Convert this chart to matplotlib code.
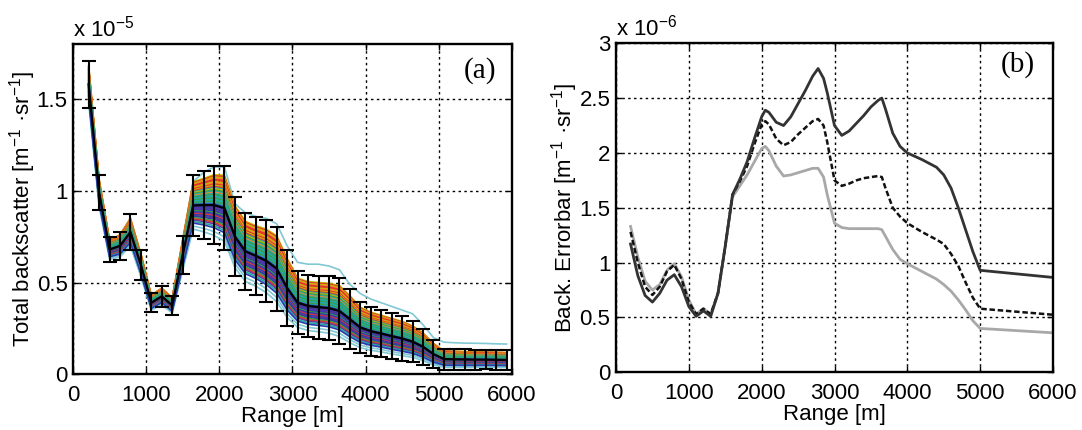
import numpy as np
import matplotlib
matplotlib.use('Agg')
import matplotlib.pyplot as plt
from matplotlib.ticker import FuncFormatter

plt.rcParams['font.family'] = ['Liberation Sans', 'DejaVu Sans']
plt.rcParams['mathtext.fontset'] = 'custom'
plt.rcParams['mathtext.rm'] = 'Liberation Sans'
plt.rcParams['mathtext.it'] = 'Liberation Sans:italic'
plt.rcParams['mathtext.default'] = 'regular'

# ---------------- panel (a) data (values in units of 1e-5) ----------------
range_a = [210, 353, 496, 639, 782, 925, 1068, 1211, 1354, 1497,
           1640, 1783, 1926, 2069, 2212, 2355, 2498, 2641, 2784, 2927,
           3070, 3213, 3356, 3499, 3642, 3785, 3928, 4071, 4214, 4357,
           4500, 4643, 4786, 4929, 5072, 5215, 5358, 5501, 5644, 5787, 5930]
mean_a = [1.58, 0.99, 0.68, 0.70, 0.775, 0.595, 0.39, 0.425, 0.375, 0.65,
          0.92, 0.922, 0.922, 0.905, 0.75, 0.67, 0.645, 0.618, 0.575, 0.47,
          0.39, 0.372, 0.366, 0.36, 0.345, 0.30, 0.255, 0.235, 0.222, 0.208,
          0.195, 0.178, 0.15, 0.11, 0.083, 0.082, 0.081, 0.080, 0.080, 0.079, 0.078]
err_a = [0.13, 0.094, 0.068, 0.077, 0.096, 0.08, 0.053, 0.058, 0.054, 0.106,
         0.165, 0.186, 0.212, 0.23, 0.216, 0.21, 0.211, 0.222, 0.23, 0.206,
         0.172, 0.171, 0.172, 0.174, 0.178, 0.164, 0.141, 0.133, 0.128, 0.124,
         0.12, 0.11, 0.097, 0.075, 0.057, 0.056, 0.055, 0.054, 0.053, 0.053, 0.052]
upper_cyan_a = [1.66, 1.02, 0.71, 0.76, 0.85, 0.64, 0.42, 0.46, 0.40, 0.72,
                1.05, 1.10, 1.13, 1.13, 0.93, 0.88, 0.86, 0.85, 0.82, 0.70,
                0.61, 0.60, 0.60, 0.59, 0.57, 0.49, 0.44, 0.41, 0.39, 0.37,
                0.35, 0.33, 0.27, 0.20, 0.175, 0.172, 0.17, 0.169, 0.168, 0.166, 0.165]
# ensemble members expressed as offsets (in error-bar units) from the mean
ens_factors = [0.78, 0.75, 0.72, 0.69, 0.66, 0.63, 0.60, 0.57, 0.54, 0.51,
               0.48, 0.45, 0.42, 0.39, 0.36, 0.33, 0.30, 0.27, 0.24, 0.21,
               0.18, 0.15, 0.12, 0.09, 0.06, 0.03, 0.00, -0.03, -0.06, -0.09,
               -0.12, -0.15, -0.18, -0.21, -0.24, -0.27, -0.30, -0.33, -0.36, -0.40,
               -0.44, -0.48, -0.53, -0.58]
ens_codes = "yryorryoryrtygtotgttgttgtbpbpbpbgbprbpbgrptbg"[:44]
lower_cyan_factors = [-0.68, -0.78]

palette = {'y': '#c8b800', 'r': '#e0342c', 'o': '#f08a24', 't': '#22a8a4',
           'g': '#3c9c3c', 'b': '#2a3cb0', 'p': '#663898', 'c': '#80c8d4'}

# ---------------- panel (b) data (values in units of 1e-6) ----------------
range_b = [200, 300, 400, 500, 600, 700, 800, 900, 1000, 1100,
           1200, 1300, 1400, 1500, 1600, 1700, 1800, 1900, 2000, 2050,
           2100, 2200, 2300, 2400, 2500, 2600, 2700, 2775, 2850, 2900,
           3000, 3100, 3200, 3300, 3400, 3500, 3600, 3650, 3700, 3800,
           3900, 4000, 4200, 4400, 4500, 4600, 4700, 4800, 4900, 5000, 6000]
err_solid = [1.17, 0.88, 0.70, 0.64, 0.72, 0.84, 0.89, 0.78, 0.60, 0.51,
             0.56, 0.51, 0.72, 1.15, 1.62, 1.76, 1.92, 2.13, 2.33, 2.39,
             2.37, 2.28, 2.25, 2.33, 2.45, 2.57, 2.70, 2.77, 2.68, 2.55,
             2.25, 2.16, 2.20, 2.27, 2.34, 2.42, 2.48, 2.50, 2.40, 2.18,
             2.06, 2.00, 1.94, 1.87, 1.80, 1.68, 1.50, 1.30, 1.10, 0.93, 0.865]
err_dashed = [1.28, 1.00, 0.78, 0.705, 0.78, 0.92, 0.98, 0.85, 0.64, 0.53,
              0.58, 0.53, 0.72, 1.15, 1.62, 1.74, 1.88, 2.08, 2.26, 2.29,
              2.26, 2.13, 2.07, 2.10, 2.17, 2.23, 2.29, 2.31, 2.25, 2.10,
              1.75, 1.70, 1.72, 1.75, 1.77, 1.78, 1.79, 1.78, 1.68, 1.50,
              1.42, 1.36, 1.28, 1.21, 1.17, 1.08, 0.97, 0.82, 0.68, 0.58, 0.525]
err_gray = [1.33, 1.05, 0.83, 0.75, 0.80, 0.93, 0.99, 0.87, 0.66, 0.53,
            0.58, 0.53, 0.72, 1.15, 1.60, 1.70, 1.80, 1.92, 2.04, 2.06,
            2.02, 1.88, 1.79, 1.80, 1.82, 1.84, 1.86, 1.86, 1.78, 1.62,
            1.36, 1.32, 1.31, 1.31, 1.31, 1.31, 1.31, 1.30, 1.24, 1.12,
            1.03, 0.99, 0.92, 0.85, 0.80, 0.74, 0.66, 0.57, 0.47, 0.40, 0.36]

xticks = [0, 1000, 2000, 3000, 4000, 5000, 6000]
yticks_a = [0, 0.5, 1, 1.5]
yticks_b = [0, 0.5, 1, 1.5, 2, 2.5, 3]

W, H = 1082, 430
fig = plt.figure(figsize=(W / 100, H / 100), dpi=100)
ax1 = fig.add_axes([73.3 / W, (H - 374.3) / H, 438.4 / W, 330.3 / H])
ax2 = fig.add_axes([616 / W, (H - 372.3) / H, 437 / W, 329 / H])

FS = 16
fmt = FuncFormatter(lambda v, p: '%g' % v)


def style(ax, yticks, ylim):
    ax.set_xlim(0, 6000)
    ax.set_ylim(*ylim)
    ax.set_xticks(xticks)
    ax.set_yticks(yticks)
    ax.yaxis.set_major_formatter(fmt)
    ax.grid(True, color='black', linestyle=(0, (1.8, 2.4)), linewidth=1.0)
    ax.set_axisbelow(True)
    ax.tick_params(direction='in', top=True, right=True, length=4, width=1,
                   labelsize=FS, pad=4)
    ax.tick_params(axis='x', pad=8)
    for s in ax.spines.values():
        s.set_linewidth(1.7)
    ax.set_xlabel('Range [m]', fontsize=FS, labelpad=0)


# ---- panel (a)
xa = np.array(range_a)
ma = np.array(mean_a)
ea = np.array(err_a)
for f in lower_cyan_factors:
    ax1.plot(xa, ma + f * ea, color=palette['c'], lw=1.2)
ax1.plot(xa, upper_cyan_a, color=palette['c'], lw=1.2)
for f, c in zip(ens_factors, ens_codes):
    ax1.plot(xa, ma + f * ea, color=palette[c], lw=1.2)
ax1.errorbar(xa, ma, yerr=ea, color='black', lw=1.6, elinewidth=1.5,
             capsize=5, capthick=1.5, zorder=5)
style(ax1, yticks_a, (0, 1.8))
ax1.set_ylabel('Total backscatter [m$^{-1}$ ·sr$^{-1}$]', fontsize=FS)
ax1.yaxis.set_label_coords(-0.08, 0.5)
ax1.text(0.0, 1.008, r'x 10$^{-5}$', transform=ax1.transAxes, fontsize=FS,
         ha='left', va='bottom')
ax1.text(0.928, 0.92, '(a)', transform=ax1.transAxes, fontsize=21,
         family='Liberation Serif', ha='center', va='center')

# ---- panel (b)
ax2.plot(range_b, err_gray, color='#a8a8a8', lw=2.0)
ax2.plot(range_b, err_dashed, color='#111111', lw=1.8, linestyle=(0, (2.2, 1.1)))
ax2.plot(range_b, err_solid, color='#333333', lw=2.0)
style(ax2, yticks_b, (0, 3))
ax2.set_ylabel('Back. Errorbar [m$^{-1}$ ·sr$^{-1}$]', fontsize=FS)
ax2.yaxis.set_label_coords(-0.082, 0.5)
ax2.text(0.0, 1.008, r'x 10$^{-6}$', transform=ax2.transAxes, fontsize=FS,
         ha='left', va='bottom')
ax2.text(0.92, 0.934, '(b)', transform=ax2.transAxes, fontsize=21,
         family='Liberation Serif', ha='center', va='center')

fig.savefig('out.png', dpi=100)
